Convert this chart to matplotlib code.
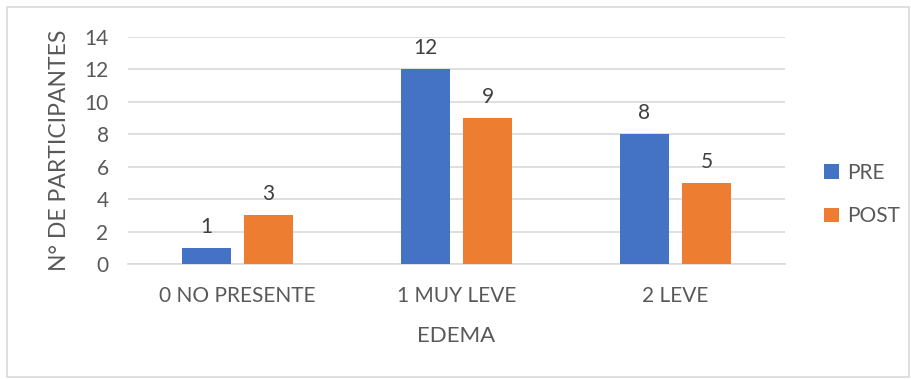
import numpy as np
import matplotlib.pyplot as plt
from matplotlib.patches import Rectangle

# datos del gráfico
categorias = ["0 NO PRESENTE", "1 MUY LEVE", "2 LEVE"]
pre = [1, 12, 8]
post = [3, 9, 5]
series = ["PRE", "POST"]
colores = ["#4472C4", "#ED7D31"]
gris = "#595959"

plt.rcParams['font.family'] = ['Lato', 'DejaVu Sans']

fig = plt.figure(figsize=(9.11, 3.79), dpi=100)
ax = fig.add_axes([128 / 911, 1 - 264 / 379, 657 / 911, 227 / 379])

x = np.arange(len(categorias))
ancho = 0.224
desp = 0.1416
for vals, nombre, color, d in zip([pre, post], series, colores, [-desp, desp]):
    barras = ax.bar(x + d, vals, ancho, color=color, label=nombre, zorder=3)
    for b, v in zip(barras, vals):
        ax.annotate(str(v), (b.get_x() + b.get_width() / 2, v),
                    xytext=(0, 8), textcoords="offset points",
                    ha="center", va="bottom", fontsize=15, color="#404040")

ax.set_xlim(-0.5, 2.5)
ax.set_ylim(0, 14)
ax.set_yticks(range(0, 15, 2))
ax.set_xticks(x)
ax.set_xticklabels(categorias)
ax.tick_params(axis="both", length=0, labelsize=15, labelcolor=gris)
ax.tick_params(axis="x", pad=16)
ax.tick_params(axis="y", pad=14)
ax.yaxis.grid(True, color="#D9D9D9", linewidth=1.2, zorder=0)
for lado in ["top", "right", "left"]:
    ax.spines[lado].set_visible(False)
ax.spines["bottom"].set_color("#D9D9D9")
ax.spines["bottom"].set_linewidth(1.2)

ax.set_xlabel("EDEMA", fontsize=16, color=gris, labelpad=14)
ax.set_ylabel("N° DE PARTICIPANTES", fontsize=16.5, color=gris, labelpad=10)

fig.legend(loc="center left", bbox_to_anchor=(824 / 911, 1 - 194.5 / 379),
           frameon=False, fontsize=15, labelcolor=gris, handlelength=0.7,
           handleheight=0.7, labelspacing=1.15, handletextpad=0.4,
           borderpad=0, borderaxespad=0)

# marco exterior
fig.patches.append(Rectangle((7 / 911, 2 / 379), 902 / 911, 370 / 379,
                             transform=fig.transFigure, fill=False,
                             edgecolor="#D9D9D9", linewidth=1.2))

fig.savefig("out.png", dpi=100)
